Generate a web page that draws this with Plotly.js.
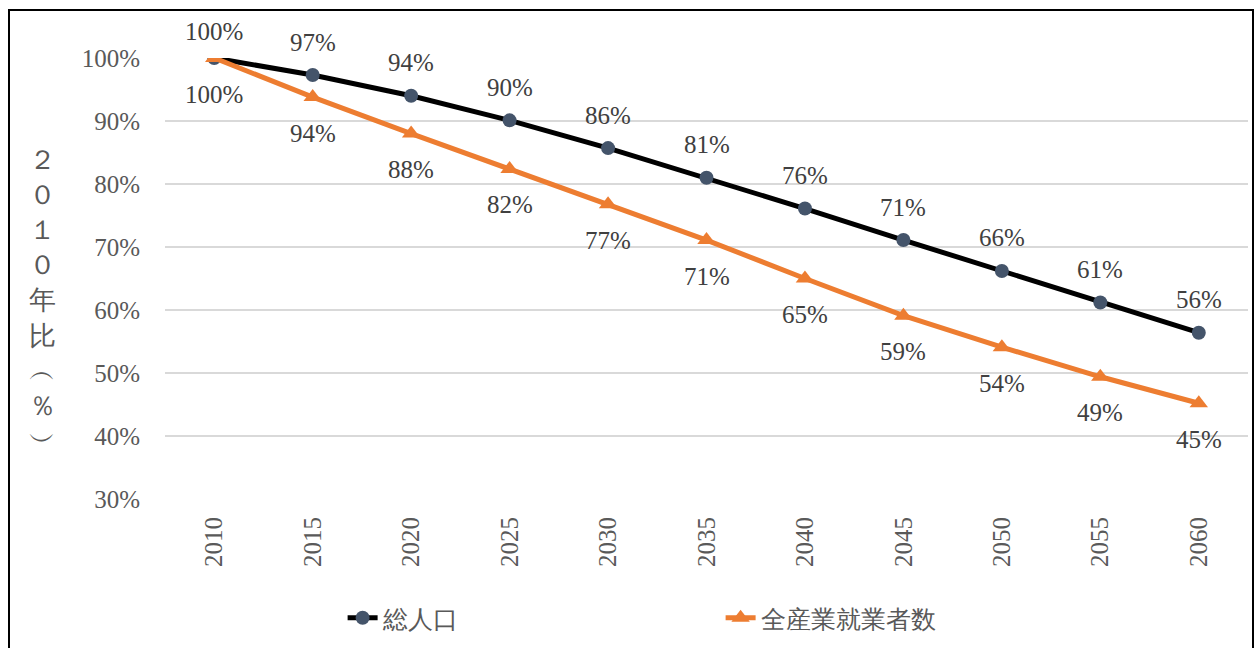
<!DOCTYPE html>
<html><head><meta charset="utf-8">
<script src="https://cdn.plot.ly/plotly-3.0.1.min.js"></script>
<style>
html,body{margin:0;padding:0;background:#fff;}
#wrap{position:relative;width:1255px;height:648px;overflow:hidden;}
#chart{position:absolute;left:0;top:0;width:1255px;height:648px;}
#frame{position:absolute;left:8px;top:9px;width:1242px;height:700px;border:2px solid #000;pointer-events:none;}
</style></head>
<body><div id="wrap"><div id="chart"></div><div id="frame"></div></div>
<script>
const years = ['2010','2015','2020','2025','2030','2035','2040','2045','2050','2055','2060'];
const totalPop = [1.000,0.973,0.940,0.901,0.857,0.810,0.761,0.711,0.662,0.612,0.564];
const workers  = [1.000,0.938,0.880,0.824,0.768,0.711,0.650,0.591,0.541,0.494,0.452];
const name1 = '総人口';
const name2 = '全産業就業者数';
const yTitle = '２０１０年比（％）';

const serif = 'serif';
const labelFont = {family: serif, size: 25, color: '#404040'};

const traces = [
  {x: years, y: totalPop, name: name1, type: 'scatter', mode: 'lines+markers',
   line: {color: '#000000', width: 5},
   marker: {symbol: 'circle', size: 14, color: '#44546A'}},
  {x: years, y: workers, name: name2, type: 'scatter', mode: 'lines+markers',
   line: {color: '#ED7D31', width: 5},
   marker: {symbol: 'triangle-up', size: 16, color: '#ED7D31'}}
];

const anns = [];
years.forEach((yr, i) => {
  anns.push({x: i, y: totalPop[i], xref: 'x', yref: 'y', text: Math.round(totalPop[i]*100) + '%',
    showarrow: false, yshift: i === 0 ? 27 : 33, font: labelFont});
  anns.push({x: i, y: workers[i], xref: 'x', yref: 'y', text: Math.round(workers[i]*100) + '%',
    showarrow: false, yshift: -36, font: labelFont});
});
const vChars = Array.from(yTitle).map(c => c === '（' ? '︵' : c === '）' ? '︶' : c);
anns.push({xref: 'paper', yref: 'paper', x: -0.113, y: 0.45, xanchor: 'center', yanchor: 'middle',
  text: vChars.join('<br>'), showarrow: false,
  font: {family: 'serif', size: 27, color: '#595959'}});

const layout = {
  width: 1255, height: 648,
  margin: {l: 165, r: 7, t: 58, b: 140, pad: 0},
  paper_bgcolor: '#ffffff', plot_bgcolor: '#ffffff',
  showlegend: true,
  xaxis: {type: 'category', range: [-0.5, 10.5], tickangle: -90,
    showgrid: false, zeroline: false, showline: false, ticks: '',
    ticklabelstandoff: 12,
    tickfont: {family: serif, size: 25, color: '#595959'}},
  yaxis: {range: [0.3, 1.0], dtick: 0.1, tickformat: '.0%',
    showgrid: true, gridcolor: '#D9D9D9', gridwidth: 1.3, zeroline: false, showline: false,
    ticks: '', ticklabelstandoff: 24,
    tickfont: {family: serif, size: 25, color: '#595959'}},
  legend: {orientation: 'h', x: 0.164, xanchor: 'left', y: -0.27, yanchor: 'middle',
    entrywidth: 333, entrywidthmode: 'pixels',
    font: {family: 'serif', size: 25, color: '#595959'},
    bgcolor: 'rgba(0,0,0,0)'},
  annotations: anns
};

Plotly.newPlot('chart', traces, layout, {displayModeBar: false, staticPlot: true});
</script></body></html>
